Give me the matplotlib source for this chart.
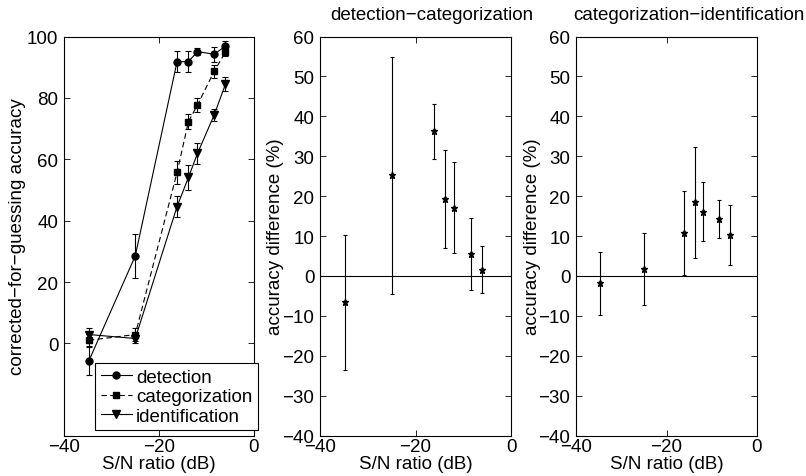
import numpy as np
import matplotlib
matplotlib.use("Agg")
import matplotlib.pyplot as plt
from matplotlib.lines import Line2D

# =====================
# DATOS
# =====================

snr = [-34.8, -25.0, -16.2, -13.8, -11.9, -8.4, -6.0]

det = [-5.8, 28.5, 91.8, 91.8, 95.1, 94.2, 96.9]
det_err = [4.6, 7.2, 3.5, 3.5, 1.2, 2.5, 1.5]
cat = [1.0, 2.9, 55.7, 72.3, 77.7, 88.6, 95.0]
cat_err = [2.0, 2.0, 3.8, 2.5, 2.4, 2.0, 1.5]
ide = [2.9, 1.6, 44.6, 54.1, 61.9, 74.4, 84.5]
ide_err = [2.0, 1.5, 3.5, 4.0, 3.4, 2.0, 2.2]

dif_dc = [-6.6, 25.2, 36.2, 19.3, 17.1, 5.5, 1.6]
dif_dc_err = [16.9, 29.7, 7.0, 12.2, 11.4, 9.0, 5.9]
dif_ci = [-1.8, 1.7, 10.8, 18.4, 16.1, 14.2, 10.3]
dif_ci_err = [7.9, 9.0, 10.6, 13.9, 7.4, 4.8, 7.5]

# =====================
# ESTILO
# =====================

plt.rcParams['font.family'] = ['Liberation Sans', 'DejaVu Sans']
plt.rcParams['font.size'] = 13.5
plt.rcParams['axes.linewidth'] = 0.8

W, H = 806, 477
fig = plt.figure(figsize=(W / 100, H / 100), dpi=100)


def px_axes(x0, y0, x1, y1):
    return fig.add_axes([x0 / W, 1 - y1 / H, (x1 - x0) / W, (y1 - y0) / H])


def estilo(ax):
    ax.set_xlim(-40, 0)
    ax.set_xticks([-40, -20, 0])
    ax.tick_params(direction='in', top=True, right=True, length=4,
                   width=0.6, pad=4, labelsize=13.5)
    ax.tick_params(axis='x', pad=2)
    ax.set_xlabel("S/N ratio (dB)", labelpad=0)


ax1 = px_axes(64, 37.5, 254, 436.5)
ax2 = px_axes(320, 37.5, 511, 436.5)
ax3 = px_axes(576, 37.5, 757, 436.5)

# -------- panel izquierdo --------
eb = dict(color='black', lw=0.8, elinewidth=0.8, capsize=2, capthick=0.8)
series = [
    (det, det_err, 'o', 5, '-', 'detection'),
    (cat, cat_err, 's', 4.2, (0, (5, 3)), 'categorization'),
    (ide, ide_err, 'v', 6, '-', 'identification'),
]
handles = []
for vals, errs, mk, ms, ls, nombre in series:
    ax1.errorbar(snr, vals, yerr=errs, marker=mk, ms=ms, ls=ls, **eb)
    handles.append(Line2D([], [], color='black', lw=0.8, ls=ls,
                          marker=mk, ms=ms, label=nombre))
estilo(ax1)
ax1.set_ylim(-30, 100)
ax1.set_yticks([0, 20, 40, 60, 80, 100])
ax1.set_ylabel("corrected\u2212for\u2212guessing accuracy")
ax1.yaxis.set_label_coords(-0.2, 0.5)
leg = ax1.legend(handles=handles, loc='lower right',
                 bbox_to_anchor=(1.022, 0.013),
                 fancybox=False, edgecolor='black', framealpha=1,
                 handlelength=1.7, handletextpad=0.2, borderpad=0.3,
                 labelspacing=0.12, borderaxespad=0, fontsize=13.5)
leg.get_frame().set_linewidth(0.8)

# -------- paneles de diferencias --------
for ax, vals, errs, titulo, tx in [
        (ax2, dif_dc, dif_dc_err, "detection\u2212categorization", 432),
        (ax3, dif_ci, dif_ci_err, "categorization\u2212identification", 689)]:
    ax.axhline(0, color='black', lw=0.8)
    ax.errorbar(snr, vals, yerr=errs, fmt='*', ms=5, color='black',
                elinewidth=0.8, capsize=1.5, capthick=0.8)
    estilo(ax)
    ax.set_ylim(-40, 60)
    ax.set_yticks(np.arange(-40, 61, 10))
    ax.set_ylabel("accuracy difference (%)")
    fig.text(tx / W, 1 - 15 / H, titulo, ha='center', va='center',
             fontsize=13.5)

ax2.yaxis.set_label_coords(-0.19, 0.5)
ax3.yaxis.set_label_coords(-0.195, 0.5)

fig.savefig("out.png", dpi=100)
